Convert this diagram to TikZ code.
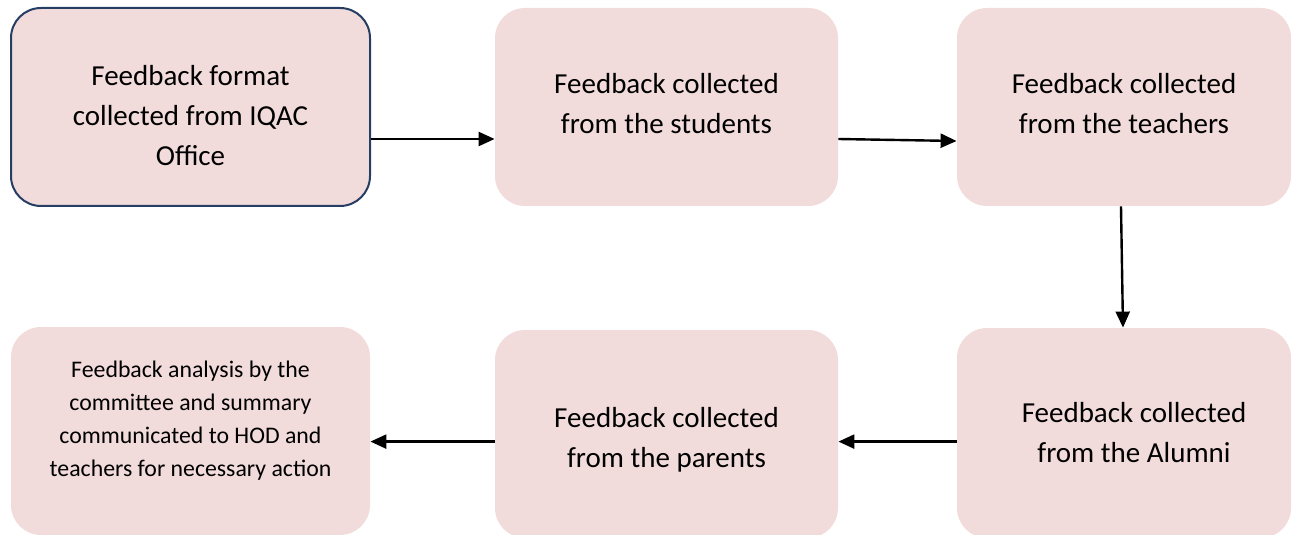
\documentclass[tikz,border=0pt]{standalone}
\usepackage{fontspec}
\setmainfont{Carlito}
\usepackage{tikz}
\usetikzlibrary{arrows.meta,positioning}
\definecolor{boxpink}{RGB}{242,220,219}
\definecolor{boxnavy}{RGB}{38,62,100}
\tikzset{
  stage/.style={rectangle,rounded corners=15pt,fill=boxpink,align=center,
    font=\fontsize{14.5}{20}\selectfont,inner sep=4pt},
  wide/.style={minimum width=179.5pt},
  mid/.style={minimum width=171.5pt},
  narrow/.style={minimum width=167pt},
  % nudge the text up inside a box
  lift/.style={execute at end node={\rule[-#1]{0pt}{#1}}}
}
\tikzstyle{arrow} = [line width=1.2pt,-{Triangle[length=8pt,width=7pt]}]
% nudge the text down inside a box
\newcommand{\dropby}[1]{\rule{0pt}{#1}}

\begin{document}
\begin{tikzpicture}[x=0.5pt,y=-0.5pt]
  \useasboundingbox (0,0) rectangle (1292,535);
  % top row
  \node[stage,wide,minimum height=99pt,draw=boxnavy,line width=1pt] (format) at (190.5,107)
    {\dropby{18.5pt}Feedback format\\collected from IQAC\\Office};
  \node[stage,mid,minimum height=99pt,lift=4pt] (students) at (666.5,107)
    {Feedback collected\\from the students};
  \node[stage,narrow,minimum height=99pt,lift=4pt] (teachers) at (1124,107)
    {Feedback collected\\from the teachers};
  % bottom row
  \node[stage,narrow,minimum height=105pt] (alumni) at (1124,433)
    {\hspace*{10pt}Feedback collected\\\hspace*{10pt}from the Alumni};
  \node[stage,mid,minimum height=104pt] (parents) at (666.5,434)
    {\dropby{16pt}Feedback collected\\from the parents};
  \node[stage,wide,minimum height=104pt,font=\fontsize{11.9}{16.5}\selectfont,lift=12.5pt] (analysis) at (190.5,431)
    {Feedback analysis by the\\committee and summary\\communicated to HOD and\\teachers for necessary action};
  % flow
  \draw[arrow] ([yshift=-16pt]format.east) -- ([yshift=-16pt]students.west);
  \draw[arrow] ([yshift=-16pt]students.east) -- ([yshift=-17pt]teachers.west);
  \draw[arrow] ([xshift=-1.5pt]teachers.south) -- ([xshift=-0.5pt]alumni.north);
  \draw[arrow] ([yshift=-4.3pt]alumni.west) -- ([yshift=-3.8pt]parents.east);
  \draw[arrow] ([yshift=-3.8pt]parents.west) -- ([yshift=-5.3pt]analysis.east);
\end{tikzpicture}
\end{document}
